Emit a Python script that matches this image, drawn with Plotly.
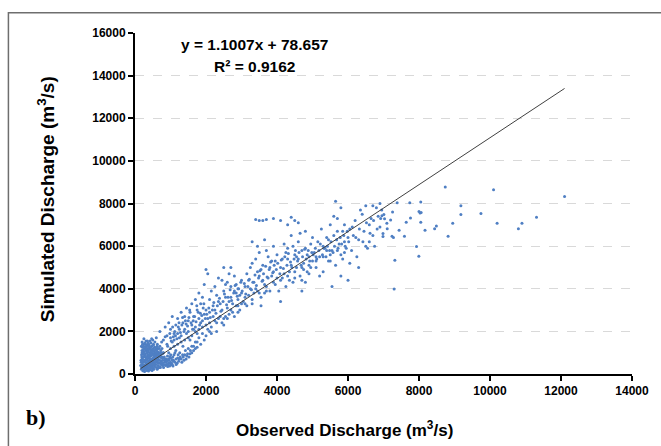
import plotly.graph_objects as go

# ---- Data (observed, simulated) in m3/s ----
low_flow_points = [
    (180,220),(190,450),(200,700),(210,300),(220,1000),(230,550),(240,180),(250,820),(260,1200),(270,400),
    (280,650),(290,950),(300,250),(310,1100),(320,500),(330,780),(340,1350),(350,350),(360,900),(370,600),
    (380,1150),(390,200),(400,750),(410,1000),(420,450),(430,1250),(440,300),(450,850),(460,600),(470,1050),
    (480,400),(490,700),(500,950),(510,250),(520,1200),(530,550),(540,800),(550,350),(560,1000),(570,650),
    (580,450),(590,1150),(600,300),(610,850),(620,600),(630,1400),(640,400),(650,750),(660,1000),(680,500),
    (700,350),(720,900),(740,600),(760,1200),(780,400),(800,750),(200,1500),(250,1650),(300,1400),(350,1550),
    (400,1300),(450,1450),(500,1600),(220,150),(270,120),(330,170),(380,140),(430,200),(480,160),(530,220),
    (190,800),(210,1250),(230,950),(260,580),(290,330),(320,1300),(350,1050),(375,450),(410,650),(440,1100),
    (470,280),(505,520),(535,1050),(565,720),(595,950),(625,220),(655,520),(685,850),(715,300),(745,450),
    (775,950),(805,300),(830,550),(860,400),(890,700),(920,350),(950,500),(980,800),(1010,450),(1040,650),
    (1070,380),(1100,900),(1130,550),(1160,450),(1200,750),(1230,600),(1260,1000),(1300,700),(1340,900),
    (1380,650),(1420,1100),(1460,850),(1500,1200),(1550,950),(1600,1300),(1650,1100),(1700,1500),(1750,1250),
    (1800,1700),(1850,1400),(1900,1900),(1950,1600),
    (205,600),(235,350),(255,1050),(285,800),(315,300),(345,700),(365,1200),(395,550),(425,850),(455,350),
    (485,1150),(515,750),(545,450),(575,900),(605,550),(635,1050),(665,300),(695,650),(725,1100),(755,800),
    (160,400),(170,650),(185,900),(195,1100),(215,450),(225,800),(245,1300),(265,250),(275,900),(295,1200),
    (305,650),(325,400),(335,1000),(355,800),(365,250),(385,1400),(405,400),(415,1200),(435,650),(445,950),
    (465,1300),(475,500),(495,300),(525,900),(555,1250),(585,650),(615,1000),(645,1200),(675,300),(705,800),
    (735,1000),(765,500),(795,1000),(825,800),(855,650),(885,450),(915,850),(945,650),(975,380),(1005,900),
    (1035,500),(1065,800),(1095,600),(1125,1000),(1155,700),(1185,500),(1215,900),(1245,700),(1275,800),
    (1320,550),(1360,800),(1400,900),(1440,700),(1480,950),(1520,800),(1560,1100),(1600,1000),(1650,1300),
    (1700,1200),(1750,1500),(180,1300),(240,1400),(310,1550),(370,1450),(420,1550),(470,1650),(520,1400),
    (560,1500),(620,1300),(680,1200),
    (175,550),(188,300),(198,1000),(212,1400),(228,680),(238,1150),(252,420),(262,950),(278,1450),(288,560),
    (298,850),(312,1250),(322,720),(338,480),(348,1150),(358,620),(372,1050),(382,820),(398,1200),(408,300),
    (418,950),(432,720),(448,1250),(458,480),(468,880),(482,1050),(498,620),(512,1350),(528,420),(548,1100),
    (568,520),(588,820),(608,1200),(628,700),(648,900),(668,650),(698,1000),(718,500),(748,750),(778,650),
    (812,450),(842,700),(872,550),(902,600),(932,450),(962,700),(992,550),(1022,750),(1052,420),(1082,650),
]

rising_limb_points = [
    (600,1700),(700,2000),(800,1600),(850,2200),(900,1800),(950,2400),(1000,2100),(1050,2700),(1100,1900),
    (1150,2300),(1200,2600),(1250,2100),(1300,2900),(1350,2400),(1400,2700),(1450,3100),(1500,2500),
    (1550,2900),(1600,3300),(1650,2700),(1700,3500),(1750,3000),(1800,3800),(1850,3300),(1900,3600),
    (1950,4200),(2000,3000),(2000,4900),(2050,4700),(2100,3500),
    (600,1100),(700,1300),(800,1000),(900,1400),(1000,1200),(1100,1600),(1200,1400),(1300,1800),(1400,1600),
    (1500,2000),(1600,1800),(1700,2200),(1800,2100),(1900,2500),(2000,2300),(1000,1700),(1100,1300),
    (1200,1900),(1300,1500),(1400,2100),(1500,1700),(1600,2300),(1700,2000),(1800,2600),(1900,2200),
    (950,1000),(1050,1500),(1150,1100),(1250,1700),(1350,1300),(1450,1900),(1550,1600),(1650,2100),
    (1750,1900),(1850,2400),(1950,2800),
    (1020,1550),(1080,1750),(1120,2000),(1180,1650),(1220,2200),(1280,1950),(1320,2300),(1380,2000),
    (1420,2500),(1480,2250),(1520,2650),(1580,2400),(1620,2100),(1680,2700),(1720,2450),(1780,2900),
    (1820,2300),(1880,2750),(1920,3100),(1980,2600),
    (750,1500),(850,1750),(920,1300),(980,1900),(1060,2200),(1140,1800),(1240,2400),(1340,2650),
    (1440,2350),(1540,3000),(1640,2500),(1740,3200),(1840,2850),(1940,3300),
]

mid_flow_points = [
    (2000,1800),(2050,2600),(2100,2900),(2150,2200),(2200,3200),(2250,2500),(2300,2000),(2350,3400),
    (2400,2700),(2450,3000),(2500,2300),(2550,3600),(2600,3100),(2650,2800),(2700,4100),(2750,3300),
    (2800,2700),(2850,3800),(2900,3500),(2950,3000),(3000,4400),(2100,2400),(2200,2700),(2300,3700),
    (2400,3300),(2500,3900),(2600,4300),(2700,3600),(2800,4600),(2900,4000),(3000,3300),(2150,3900),
    (2250,4100),(2350,2600),(2450,4400),(2550,2700),(2650,4700),(2750,2900),(2850,4200),(2950,3700),
    (2050,2100),(2250,3000),(2450,2400),(2650,3400),(2850,3200),(2500,5000),(2700,5000),(2350,4500),
    (2150,1900),(2550,4200),(2600,2600),(2800,3900),(2900,2900),(3000,3800),
    (3050,3400),(3100,4100),(3150,4700),(3200,3700),(3250,5000),(3300,3300),(3350,4300),(3400,5400),
    (3450,3900),(3500,4600),(3550,3600),(3600,5100),(3650,4200),(3700,5800),(3750,4500),(3800,3900),
    (3850,5300),(3900,4800),(3950,4200),(4000,5600),(3100,3600),(3200,4400),(3300,5200),(3400,4000),
    (3500,5700),(3600,4400),(3700,3900),(3800,5000),(3900,6000),(4000,4500),(3150,3200),(3250,4000),
    (3350,3800),(3450,4800),(3550,4900),(3650,3800),(3750,5500),(3850,4600),(3950,5300),(3300,6200),
    (3400,7250),(3500,7200),(3600,7200),(3700,7250),(3900,7300),(4100,7200),(4300,7000),(4400,7350),
    (4500,7200),(4600,7100),(3450,6000),(3650,6300),(3550,3200),
    (2020,2800),(2080,3100),(2120,2650),(2180,3000),(2220,3350),(2280,2850),(2320,3200),(2380,3550),
    (2420,2950),(2480,3400),(2520,3750),(2580,3250),(2620,3600),(2680,3950),(2720,3450),(2780,3800),
    (2820,4150),(2880,3650),(2920,4000),(2980,4300),
    (3020,3900),(3080,4250),(3120,3750),(3180,4100),(3220,4450),(3280,3950),(3320,4300),(3380,4650),
    (3420,4150),(3480,4500),(3520,4850),(3580,4350),(3620,4700),(3680,5050),(3720,4550),(3780,4900),
    (3820,5250),(3880,4750),(3920,5100),(3980,4900),
    (2100,2000),(2300,2400),(2500,2600),(2700,3000),(2900,3200),(3100,3300),(3300,3500),(3500,3800),
    (3700,4100),(3900,4300),
]

high_flow_points = [
    (4050,3900),(4100,5000),(4150,4500),(4200,6100),(4250,4100),(4300,5400),(4350,4800),(4400,6500),
    (4450,4300),(4500,5600),(4550,5000),(4600,6200),(4650,4600),(4700,5800),(4750,5200),(4800,6700),
    (4850,4800),(4900,5500),(4950,6100),(5000,5300),(4100,3400),(4200,4700),(4300,5900),(4400,5100),
    (4500,4500),(4600,5400),(4700,4400),(4800,5900),(4900,4700),(5000,6400),(4150,5400),(4250,5700),
    (4350,4400),(4450,6000),(4550,5500),(4650,6600),(4750,4900),(4850,5600),(4950,5000),(4700,3900),
    (4800,4300),
    (5050,5700),(5100,5000),(5150,6200),(5200,5500),(5250,6800),(5300,4800),(5350,5900),(5400,6400),
    (5450,5300),(5500,7000),(5550,5800),(5600,6500),(5650,5100),(5700,7300),(5750,6100),(5800,5600),
    (5850,6700),(5900,7000),(5950,5900),(6000,6400),(5100,5500),(5300,6000),(5500,5300),(5700,6700),
    (5900,6200),(5200,4600),(5400,5800),(5600,7400),(5800,4600),(6000,4400),(5650,8100),(5800,7800),
    (5550,4100),(5450,6300),(5850,5400),
    (6050,6800),(6100,5800),(6200,7200),(6300,6300),(6400,7500),(6500,6000),(6600,7000),(6700,6500),
    (6800,7800),(6900,6900),(6150,6500),(6250,5500),(6350,7700),(6450,6700),(6550,5900),(6650,7300),
    (6750,6000),(6850,7400),(6950,7700),(6050,5200),(6300,5000),(6600,6200),(6900,8000),(6700,7900),
    (6500,7900),
    (4020,5200),(4080,4700),(4120,5350),(4180,4950),(4220,5500),(4280,5100),(4320,5650),(4380,5250),
    (4420,5000),(4480,5400),(4520,5800),(4580,5300),(4620,5700),(4680,5100),(4720,5500),(4780,5850),
    (4820,5400),(4880,5800),(4920,5300),(4980,5700),
    (5020,5600),(5080,5900),(5120,5400),(5180,5800),(5220,6100),(5280,5600),(5320,5900),(5380,5500),
    (5420,6000),(5480,5800),(5520,6200),(5580,5700),(5620,6000),(5680,6300),(5720,5900),(5780,6400),
    (5820,6100),(5880,6500),(5920,6000),(5980,6700),
    (6020,6200),(6120,6900),(6220,6400),(6320,6800),(6420,6200),(6520,7100),(6620,6600),(6720,7200),
    (6820,6800),(6920,7300),
    (4100,4400),(4300,4600),(4500,4800),(4700,5000),(4900,5100),(5100,5300),(5300,5500),(5500,5600),
    (5700,5800),(5900,5700),
]

peak_flow_points = [
    (8740,8780),(10100,8650),(12100,8330),(7385,8040),(7740,8040),(8050,8075),(9180,7890),(9180,7480),
    (9745,7530),(7255,7600),(7010,7480),(6955,7430),(8030,7550),(8000,7620),(8060,7580),(7030,7290),
    (7200,7230),(7760,7320),(7095,7070),(7640,7120),(8050,7120),(8950,7070),(10200,7070),(10900,7070),
    (11310,7360),(8490,6950),(8440,6820),(8170,6745),(7440,6745),(7105,6820),(6985,6590),(6985,6450),
    (7240,6460),(7280,6400),(7590,6465),(8820,6465),(10800,6820),(7930,5980),(7995,5525),(7320,5340),
    (7300,3990),
]

# Linear fit shown on the chart
fit_slope = 1.1007
fit_intercept = 78.657
equation_text = "y = 1.1007x + 78.657"
r2_text = "R² = 0.9162"

x_ticks = [0, 2000, 4000, 6000, 8000, 10000, 12000, 14000]
y_ticks = [0, 2000, 4000, 6000, 8000, 10000, 12000, 14000, 16000]

all_points = low_flow_points + rising_limb_points + mid_flow_points + high_flow_points + peak_flow_points
obs = [p[0] for p in all_points]
sim = [p[1] for p in all_points]

fit_x = [min(obs), max(obs)]
fit_y = [fit_slope * v + fit_intercept for v in fit_x]

fig = go.Figure()
fig.add_trace(go.Scatter(
    x=obs, y=sim, mode="markers",
    marker=dict(size=3, color="#4F7FC3", line=dict(width=0)),
    showlegend=False, hoverinfo="skip",
))
fig.add_trace(go.Scatter(
    x=fit_x, y=fit_y, mode="lines",
    line=dict(color="#404040", width=1),
    showlegend=False, hoverinfo="skip",
))

bold = dict(family="Liberation Sans, Arial, sans-serif", color="#000000", weight="bold")

fig.update_layout(
    width=661, height=446,
    margin=dict(l=135, r=27, t=33, b=72),
    paper_bgcolor="white", plot_bgcolor="white",
    xaxis=dict(
        range=[0, 14000], tickvals=x_ticks, ticktext=[str(v) for v in x_ticks],
        showgrid=False, zeroline=False,
        showline=True, linecolor="black", linewidth=2,
        ticks="outside", ticklen=5, tickwidth=1.5, tickcolor="black",
        tickfont=dict(size=12, **bold),
    ),
    yaxis=dict(
        range=[0, 16000], tickvals=y_ticks, ticktext=[str(v) for v in y_ticks],
        showgrid=True, gridcolor="#d9d9d9", gridwidth=1, griddash="dash",
        zeroline=False,
        showline=True, linecolor="black", linewidth=2,
        ticks="outside", ticklen=5, tickwidth=1.5, tickcolor="black",
        tickfont=dict(size=12, **bold),
    ),
    shapes=[dict(
        type="rect", xref="paper", yref="paper",
        x0=-0.2547, x1=1.3, y0=-0.5, y1=1.0596,
        line=dict(color="#6e6e6e", width=1.5), fillcolor="rgba(0,0,0,0)", layer="below",
    )],
    annotations=[
        dict(text=equation_text, xref="paper", yref="paper", x=0.2407, y=0.9657,
             showarrow=False, xanchor="center", yanchor="middle", font=dict(size=15.5, **bold)),
        dict(text=r2_text, xref="paper", yref="paper", x=0.2407, y=0.903,
             showarrow=False, xanchor="center", yanchor="middle", font=dict(size=15.5, **bold)),
        dict(text="Observed Discharge (m<sup>3</sup>/s)", xref="paper", yref="paper", x=0.421, y=-0.16,
             showarrow=False, xanchor="center", yanchor="middle", font=dict(size=17, **bold)),
        dict(text="Simulated Discharge (m<sup>3</sup>/s)", xref="paper", yref="paper", x=-0.18, y=0.511,
             showarrow=False, xanchor="center", yanchor="middle", textangle=-90, font=dict(size=19, **bold)),
        dict(text="b)", xref="paper", yref="paper", x=-0.1986, y=-0.129,
             showarrow=False, xanchor="center", yanchor="middle",
             font=dict(family="Liberation Serif, Times New Roman, serif", size=22, color="black", weight="bold")),
    ],
)

fig.write_html("out.html", config={"displayModeBar": False},
               post_script="document.body.style.margin='0';")
